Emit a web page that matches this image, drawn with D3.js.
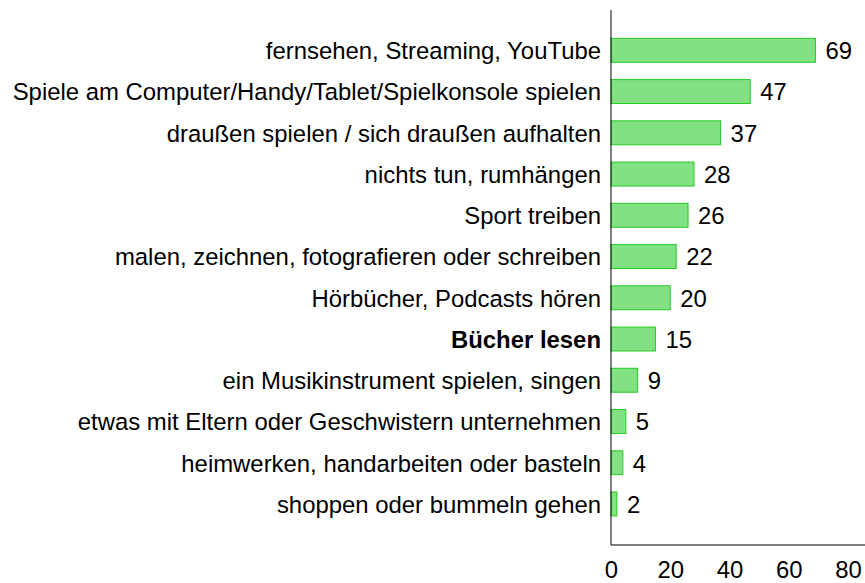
<!DOCTYPE html>
<html><head><meta charset="utf-8">
<script src="https://cdn.jsdelivr.net/npm/d3@7"></script>
<style>body{margin:0;background:#fff}svg{display:block}text{font-family:"Liberation Sans",Arial,sans-serif;fill:#000}</style>
</head><body><svg id="c" width="865" height="583"></svg>
<script>
const categories = [
  "fernsehen, Streaming, YouTube",
  "Spiele am Computer/Handy/Tablet/Spielkonsole spielen",
  "draußen spielen / sich draußen aufhalten",
  "nichts tun, rumhängen",
  "Sport treiben",
  "malen, zeichnen, fotografieren oder schreiben",
  "Hörbücher, Podcasts hören",
  "Bücher lesen",
  "ein Musikinstrument spielen, singen",
  "etwas mit Eltern oder Geschwistern unternehmen",
  "heimwerken, handarbeiten oder basteln",
  "shoppen oder bummeln gehen"
];
const values = [69, 47, 37, 28, 26, 22, 20, 15, 9, 5, 4, 2];
const boldCategories = ["Bücher lesen"];
const xTicks = [0, 20, 40, 60, 80];

const svg = d3.select("#c");
const x0 = 611, yTop = 10, yBottom = 545;
const fs = 23.9;
const x = d3.scaleLinear().domain([0, 80]).range([x0, 848]);
const y = d3.scaleBand().domain(categories).range([29.7, 524.6]).paddingInner(0.42).paddingOuter(0.21);

svg.append("g").selectAll("rect").data(values).join("rect")
  .attr("x", x(0))
  .attr("y", (d, i) => y(categories[i]))
  .attr("width", d => x(d) - x(0))
  .attr("height", y.bandwidth())
  .attr("fill", "#82e182")
  .attr("stroke", "#22cc22")
  .attr("stroke-width", 1);

svg.append("g").selectAll("text").data(values).join("text")
  .attr("x", d => x(d) + 10)
  .attr("y", (d, i) => y(categories[i]) + y.bandwidth() / 2)
  .attr("dy", "0.37em")
  .attr("font-size", fs)
  .text(d => d);

svg.append("g").selectAll("text").data(categories).join("text")
  .attr("x", x0 - 10)
  .attr("y", d => y(d) + y.bandwidth() / 2)
  .attr("dy", "0.37em")
  .attr("text-anchor", "end")
  .attr("font-size", fs)
  .attr("font-weight", d => boldCategories.includes(d) ? "bold" : "normal")
  .text(d => d);

svg.append("line").attr("x1", x0).attr("x2", x0).attr("y1", yTop).attr("y2", yBottom).attr("stroke", "#000").attr("stroke-width", 1);
svg.append("line").attr("x1", x0).attr("x2", 865).attr("y1", yBottom).attr("y2", yBottom).attr("stroke", "#000").attr("stroke-width", 1);

const xAxis = d3.axisBottom(x).tickValues(xTicks).tickSize(0).tickPadding(0);
const ga = svg.append("g").attr("transform", `translate(0,${yBottom})`).call(xAxis);
ga.select(".domain").remove();
ga.selectAll("text").attr("font-size", fs).attr("font-family", '"Liberation Sans",Arial,sans-serif').attr("dy", null).attr("y", 27).attr("dominant-baseline", "middle");
</script></body></html>
